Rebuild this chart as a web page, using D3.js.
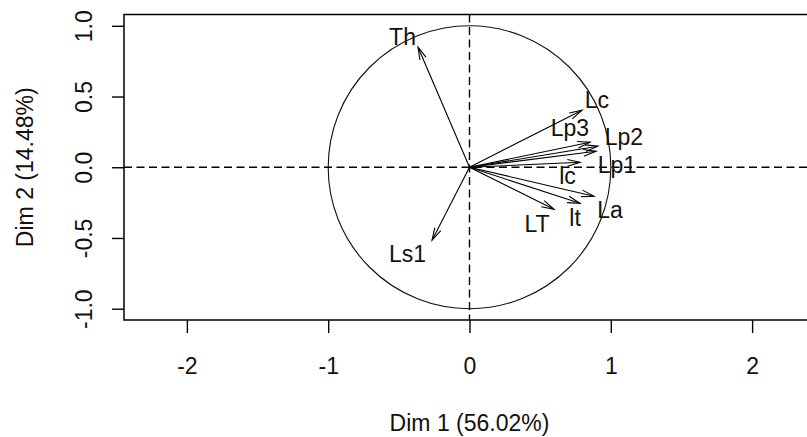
<!DOCTYPE html>
<html>
<head>
<meta charset="utf-8">
<script src="https://cdn.jsdelivr.net/npm/d3@7"></script>
<style>
  html, body { margin: 0; padding: 0; background: #fff; }
  svg { display: block; font-family: "Liberation Sans", Arial, sans-serif; }
</style>
</head>
<body>
<svg id="chart" width="807" height="437"></svg>
<script>
// Variables factor map (PCA): correlations of each variable with Dim 1 / Dim 2
const variables = ["Th", "Ls1", "Lc", "Lp3", "Lp2", "Lp1", "lc", "La", "lt", "LT"];
const dim1 = [-0.364, -0.265, 0.796, 0.853, 0.909, 0.895, 0.782, 0.881, 0.782, 0.598];
const dim2 = [0.849, -0.516, 0.403, 0.177, 0.149, 0.113, 0.035, -0.205, -0.255, -0.297];

// Label anchor points (in Dim units), spread apart so they do not overlap
const labelDim1 = [-0.474, -0.439, 0.902, 0.711, 1.093, 1.044, 0.694, 0.994, 0.747, 0.478];
const labelDim2 = [0.926, -0.608, 0.474, 0.283, 0.219, 0.018, -0.057, -0.297, -0.354, -0.396];

const xTicks = [-2, -1, 0, 1, 2];
const yTicks = [-1.0, -0.5, 0.0, 0.5, 1.0];
const xTitle = "Dim 1 (56.02%)";
const yTitle = "Dim 2 (14.48%)";

const svg = d3.select("#chart");
const fontSize = 23;
const font = "Liberation Sans, Arial, sans-serif";
// plain hyphen-minus for negative tick labels
const hyphen = f => d => f(d).replace("\u2212", "-");

const x = d3.scaleLinear().domain([-2.445, 2.445]).range([124, 815]);
const y = d3.scaleLinear().domain([-1.08, 1.08]).range([320, 14.5]);

const [x0, x1] = x.range();
const [yb, yt] = y.range();

// Correlation circle
svg.append("ellipse")
  .attr("cx", x(0)).attr("cy", y(0))
  .attr("rx", x(1) - x(0)).attr("ry", y(0) - y(1))
  .attr("fill", "none").attr("stroke", "#111").attr("stroke-width", 1.1);

// Dashed reference lines through the origin
svg.append("line")
  .attr("x1", x0).attr("x2", x1).attr("y1", y(0)).attr("y2", y(0))
  .attr("stroke", "#000").attr("stroke-width", 1.4).attr("stroke-dasharray", "8,4.5");
svg.append("line")
  .attr("x1", x(0)).attr("x2", x(0)).attr("y1", yt).attr("y2", yb)
  .attr("stroke", "#000").attr("stroke-width", 1.4).attr("stroke-dasharray", "8,4.5");

// Arrows for each variable
const headLen = 13, headAngle = 15 * Math.PI / 180;
const arrows = svg.append("g").attr("stroke", "#000").attr("stroke-width", 1.1).attr("fill", "none");
variables.forEach((v, i) => {
  const sx = x(0), sy = y(0), ex = x(dim1[i]), ey = y(dim2[i]);
  const a = Math.atan2(ey - sy, ex - sx);
  arrows.append("line").attr("x1", sx).attr("y1", sy).attr("x2", ex).attr("y2", ey);
  const p1 = [ex - headLen * Math.cos(a - headAngle), ey - headLen * Math.sin(a - headAngle)];
  const p2 = [ex - headLen * Math.cos(a + headAngle), ey - headLen * Math.sin(a + headAngle)];
  arrows.append("path").attr("d", `M${p1[0]},${p1[1]}L${ex},${ey}L${p2[0]},${p2[1]}`);
});

// Variable labels
svg.append("g").selectAll("text")
  .data(variables)
  .join("text")
  .attr("x", (d, i) => x(labelDim1[i]))
  .attr("y", (d, i) => y(labelDim2[i]))
  .attr("dy", "0.36em")
  .attr("text-anchor", "middle")
  .attr("font-size", fontSize)
  .attr("fill", "#111")
  .text(d => d);

// Plot frame
svg.append("rect")
  .attr("x", x0).attr("y", yt).attr("width", x1 - x0).attr("height", yb - yt)
  .attr("fill", "none").attr("stroke", "#000").attr("stroke-width", 1.5);

// Bottom axis
const gx = svg.append("g")
  .attr("transform", `translate(0,${yb})`)
  .call(d3.axisBottom(x).tickValues(xTicks).tickFormat(hyphen(d3.format("d"))).tickSize(13).tickPadding(25));
gx.select(".domain").remove();
gx.selectAll(".tick line").attr("stroke", "#000").attr("stroke-width", 1.4);
gx.selectAll(".tick text").attr("font-size", fontSize).attr("fill", "#111").attr("font-family", font);

// Left axis with rotated tick labels
const gy = svg.append("g")
  .attr("transform", `translate(${x0},0)`)
  .call(d3.axisLeft(y).tickValues(yTicks).tickFormat(hyphen(d3.format(".1f"))).tickSize(12));
gy.select(".domain").remove();
gy.selectAll(".tick line").attr("stroke", "#000").attr("stroke-width", 1.4);
gy.selectAll(".tick text")
  .attr("x", null).attr("y", null).attr("dy", null)
  .attr("text-anchor", "middle")
  .attr("transform", "translate(-32,0) rotate(-90)")
  .attr("font-size", fontSize).attr("fill", "#111").attr("font-family", font);

// Axis titles
svg.append("text")
  .attr("x", x(0)).attr("y", 431)
  .attr("text-anchor", "middle")
  .attr("font-size", fontSize).attr("fill", "#111")
  .text(xTitle);
svg.append("text")
  .attr("transform", `translate(33,${(yt + yb) / 2}) rotate(-90)`)
  .attr("text-anchor", "middle")
  .attr("font-size", fontSize).attr("fill", "#111")
  .text(yTitle);
</script>
</body>
</html>
